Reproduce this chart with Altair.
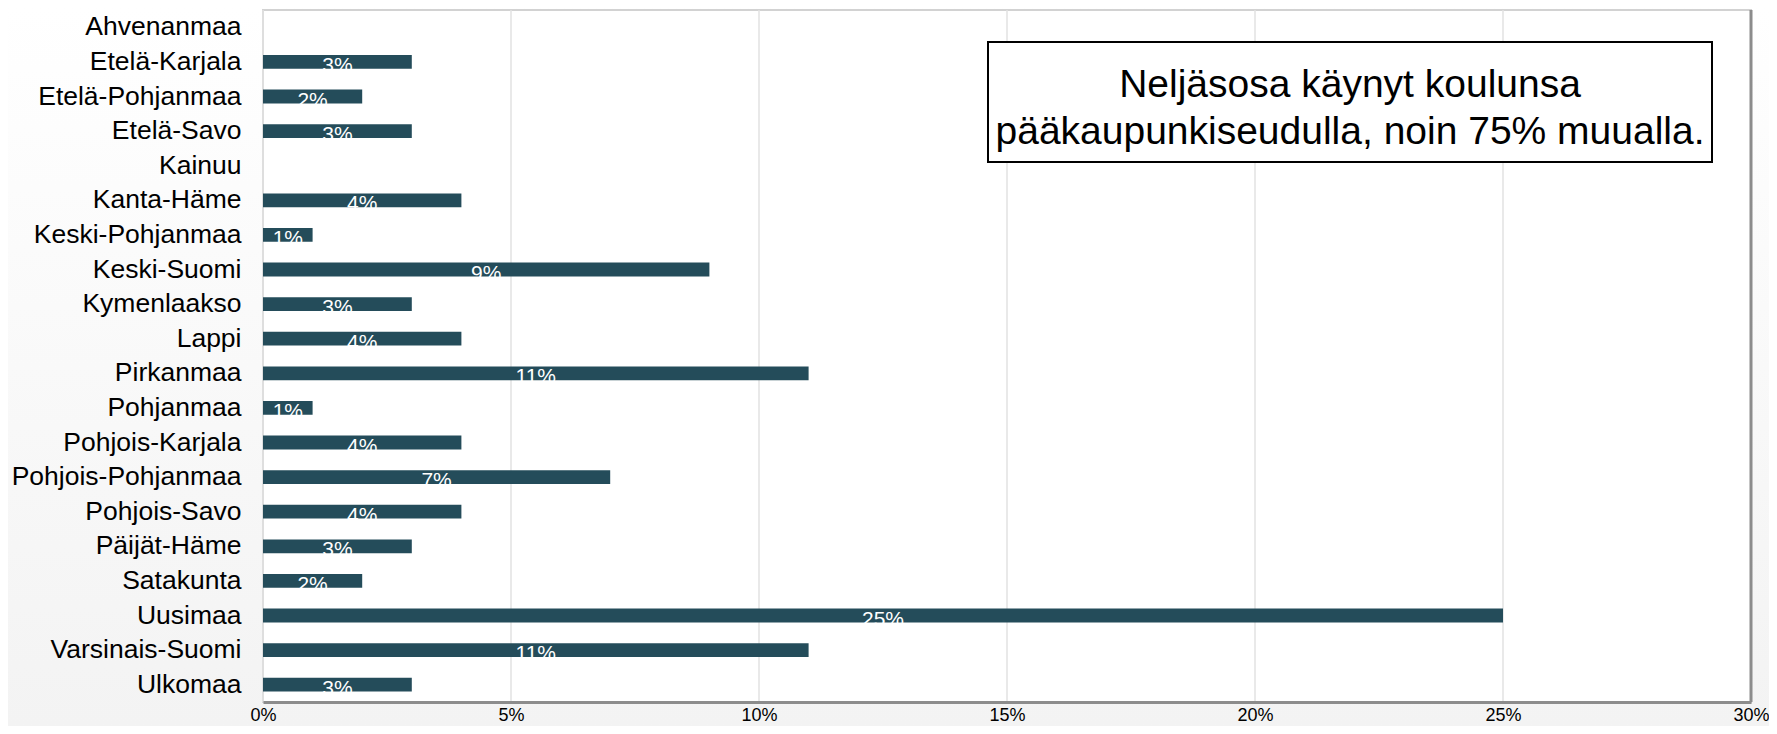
import altair as alt
import pandas as pd

# ---- data ----
regions = [
    "Ahvenanmaa", "Etelä-Karjala", "Etelä-Pohjanmaa", "Etelä-Savo", "Kainuu",
    "Kanta-Häme", "Keski-Pohjanmaa", "Keski-Suomi", "Kymenlaakso", "Lappi",
    "Pirkanmaa", "Pohjanmaa", "Pohjois-Karjala", "Pohjois-Pohjanmaa",
    "Pohjois-Savo", "Päijät-Häme", "Satakunta", "Uusimaa", "Varsinais-Suomi",
    "Ulkomaa",
]
shares = [
    0.00, 0.03, 0.02, 0.03, 0.00,
    0.04, 0.01, 0.09, 0.03, 0.04,
    0.11, 0.01, 0.04, 0.07,
    0.04, 0.03, 0.02, 0.25, 0.11,
    0.03,
]
x_ticks = [0.0, 0.05, 0.10, 0.15, 0.20, 0.25, 0.30]
note_lines = ["Neljäsosa käynyt koulunsa", "pääkaupunkiseudulla, noin 75% muualla."]

df = pd.DataFrame({"alue": regions, "osuus": shares})
grid_df = pd.DataFrame({"osuus": x_ticks})
one = pd.DataFrame({"a": [0]})

FONT = "Liberation Sans"
BAR = "#244c5a"
W, H = 1488, 692
PL, PT, PR, PB = 255, 2, 18, 24

x_scale = alt.Scale(domain=[0, 0.3], nice=False)
x_axis = alt.Axis(
    title=None, values=x_ticks, format=".0%", labelFontSize=18,
    labelColor="black", labelFont=FONT, labelPadding=4, ticks=False,
    labelFlush=False, domainColor="#8c8c8c", domainWidth=3, grid=False,
    zindex=1,
)
y_axis = alt.Axis(
    title=None, labelFontSize=26.5, labelColor="black", labelFont=FONT,
    labelPadding=22, ticks=False, domain=False, labelLimit=400, zindex=1,
)
y_scale = alt.Scale(paddingInner=0.6, paddingOuter=0.3)

# page background gradient (white at top, light grey at bottom)
page_bg = alt.Chart(one).mark_rect(
    color=alt.Gradient(
        gradient="linear", x1=0, x2=0, y1=0, y2=1,
        stops=[alt.GradientStop(color="#ffffff", offset=0),
               alt.GradientStop(color="#f3f3f3", offset=1)],
    )
).encode(x=alt.value(-PL), x2=alt.value(W + PR), y=alt.value(-PT), y2=alt.value(H + PB))

plot_bg = alt.Chart(one).mark_rect(
    fill="white", stroke="#d2d2d2", strokeWidth=2
).encode(x=alt.value(0), x2=alt.value(W), y=alt.value(0), y2=alt.value(H))

grid = alt.Chart(grid_df).mark_rule(color="#e2e2e2", strokeWidth=1.5).encode(
    x=alt.X("osuus:Q", scale=x_scale, axis=x_axis)
)

base = alt.Chart(df)
bars = base.mark_bar(color=BAR).encode(
    x=alt.X("osuus:Q", scale=x_scale, axis=x_axis),
    y=alt.Y("alue:N", sort=regions, scale=y_scale, axis=y_axis),
)
labels = base.transform_filter("datum.osuus > 0").transform_calculate(
    m="datum.osuus / 2"
).mark_text(
    color="white", fontSize=21, font=FONT, baseline="alphabetic", dy=10
).encode(
    x=alt.X("m:Q", scale=x_scale, axis=x_axis),
    y=alt.Y("alue:N", sort=regions, scale=y_scale, axis=y_axis),
    text=alt.Text("osuus:Q", format=".0%"),
)

note_df = pd.DataFrame({"t": ["\n".join(note_lines)]})
note_box = alt.Chart(note_df).mark_rect(
    fill="white", stroke="black", strokeWidth=2
).encode(
    x=alt.value(725), x2=alt.value(1449), y=alt.value(32), y2=alt.value(152)
)
note_text = alt.Chart(note_df).mark_text(
    lineBreak="\n", fontSize=39, font=FONT, color="black",
    align="center", baseline="middle", lineHeight=47,
).encode(text="t:N", x=alt.value(1087), y=alt.value(75))

right_edge = alt.Chart(one).mark_rule(
    color="#8c8c8c", strokeWidth=3
).encode(x=alt.value(W), y=alt.value(0), y2=alt.value(H))

chart = alt.layer(
    page_bg, plot_bg, grid, bars, labels, note_box, note_text, right_edge
).properties(
    width=W, height=H,
    padding={"left": PL, "top": PT, "right": PR, "bottom": PB},
    autosize=alt.AutoSizeParams(type="none"),
    background="#ffffff",
).configure_view(stroke=None)

chart.save("out.html", embed_options={"renderer": "svg", "actions": False})
